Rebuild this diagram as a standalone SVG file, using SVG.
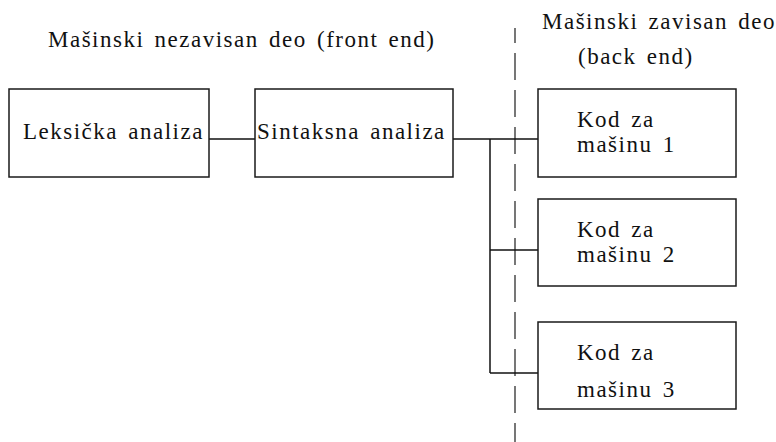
<svg xmlns="http://www.w3.org/2000/svg" width="776" height="442" viewBox="0 0 776 442">
  <defs>
    <style>
      .box { fill: #ffffff; stroke: #1a1a1a; stroke-width: 1.5; }
      .wire { fill: none; stroke: #111111; stroke-width: 1.5; }
      .divider { fill: none; stroke: #555555; stroke-width: 1.6; stroke-dasharray: 27 10; stroke-dashoffset: 12; }
      .lbl { font-size: 23px; letter-spacing: 1.5px; word-spacing: 3px; fill: #111111; }
    </style>
  </defs>
  <rect width="776" height="442" fill="#ffffff"/>

  <g font-family="Liberation Serif, DejaVu Serif, serif">
    <!-- section headings -->
    <g id="headings">
      <text class="lbl" x="48" y="47">Mašinski nezavisan deo (front end)</text>
      <text class="lbl" x="542" y="29">Mašinski zavisan deo</text>
      <text class="lbl" x="578" y="64">(back end)</text>
    </g>

    <!-- front end / back end divider -->
    <line class="divider" x1="515" y1="28" x2="515" y2="442"/>

    <!-- connectors -->
    <g id="connectors">
      <line class="wire" x1="209" y1="139" x2="255" y2="139"/>
      <line class="wire" x1="453" y1="139" x2="538" y2="139"/>
      <line class="wire" x1="490" y1="139" x2="490" y2="373"/>
      <line class="wire" x1="490" y1="250" x2="538" y2="250"/>
      <line class="wire" x1="490" y1="373" x2="538" y2="373"/>
    </g>

    <g id="leksicka">
      <rect class="box" x="9" y="89" width="200" height="88"/>
      <text class="lbl" x="23" y="139">Leksička analiza</text>
    </g>

    <g id="sintaksna">
      <rect class="box" x="255" y="89" width="198" height="88"/>
      <text class="lbl" x="257" y="139">Sintaksna analiza</text>
    </g>

    <g id="kod1">
      <rect class="box" x="538" y="89" width="198" height="88"/>
      <text class="lbl" x="577" y="127">Kod za</text>
      <text class="lbl" x="577" y="152">mašinu 1</text>
    </g>

    <g id="kod2">
      <rect class="box" x="538" y="199" width="198" height="87"/>
      <text class="lbl" x="577" y="237">Kod za</text>
      <text class="lbl" x="577" y="262">mašinu 2</text>
    </g>

    <g id="kod3">
      <rect class="box" x="538" y="322" width="198" height="87"/>
      <text class="lbl" x="577" y="360">Kod za</text>
      <text class="lbl" x="577" y="397">mašinu 3</text>
    </g>
  </g>
</svg>
